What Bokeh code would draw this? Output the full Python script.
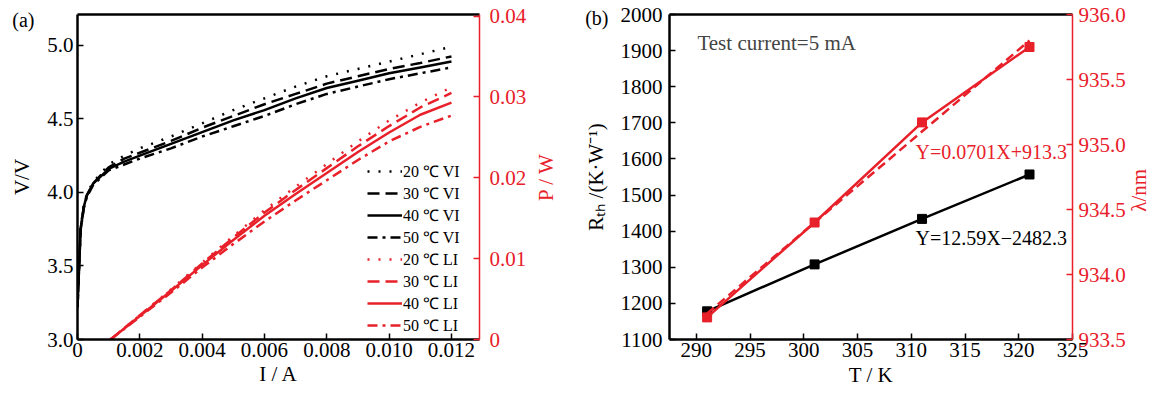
import math
from bokeh.plotting import figure
from bokeh.models import (Range1d, LinearAxis, FixedTicker, Legend, LegendItem, Label,
                          PrintfTickFormatter)
from bokeh.layouts import row
from bokeh.embed import file_html
from bokeh.resources import INLINE

RED = "#e8202a"
FONT = "Liberation Serif"

# ---------------- Panel (a) data ----------------
I_vi = [0, 0.0001, 0.0002, 0.0003, 0.0005, 0.0008, 0.001, 0.0015, 0.002, 0.003,
        0.004, 0.005, 0.006, 0.007, 0.008, 0.009, 0.010, 0.011, 0.012]
V_20 = [3.22, 3.76, 3.91, 3.99, 4.07, 4.14, 4.19, 4.25, 4.30, 4.38,
        4.47, 4.56, 4.64, 4.72, 4.79, 4.84, 4.89, 4.94, 4.99]
V_30 = [3.22, 3.75, 3.90, 3.98, 4.06, 4.13, 4.17, 4.23, 4.27, 4.35,
        4.44, 4.52, 4.60, 4.67, 4.74, 4.79, 4.84, 4.88, 4.925]
V_40 = [3.22, 3.75, 3.90, 3.98, 4.06, 4.12, 4.16, 4.21, 4.25, 4.33,
        4.41, 4.49, 4.56, 4.64, 4.71, 4.76, 4.81, 4.85, 4.89]
V_50 = [3.22, 3.74, 3.89, 3.97, 4.05, 4.11, 4.15, 4.19, 4.23, 4.30,
        4.38, 4.45, 4.52, 4.60, 4.67, 4.72, 4.77, 4.81, 4.85]

I_li = [0.00106, 0.002, 0.003, 0.004, 0.005, 0.006, 0.007, 0.008, 0.009, 0.010, 0.011, 0.012]
P_20 = [0, 0.0030, 0.0062, 0.0095, 0.0128, 0.0160, 0.0189, 0.0217, 0.0245, 0.0271, 0.0293, 0.0312]
P_30 = [0, 0.0030, 0.0061, 0.0094, 0.0126, 0.0157, 0.0185, 0.0212, 0.0239, 0.0264, 0.0287, 0.0305]
P_40 = [0, 0.0029, 0.0060, 0.0092, 0.0123, 0.0153, 0.0180, 0.0206, 0.0232, 0.0256, 0.0278, 0.0293]
P_50 = [0, 0.0028, 0.0058, 0.0089, 0.0118, 0.0146, 0.0172, 0.0197, 0.0222, 0.0245, 0.0263, 0.0277]

labels_vi = ["20 ℃ VI", "30 ℃ VI", "40 ℃ VI", "50 ℃ VI"]
labels_li = ["20 ℃ LI", "30 ℃ LI", "40 ℃ LI", "50 ℃ LI"]

xticks_a = [0, 0.002, 0.004, 0.006, 0.008, 0.010, 0.012]
yticks_a = [3.0, 3.5, 4.0, 4.5, 5.0]
pticks_a = [0, 0.01, 0.02, 0.03, 0.04]

# ---------------- Panel (b) data ----------------
T = [291, 301, 311, 321]
Rth = [1178, 1308, 1434, 1557]
lam = [933.67, 934.40, 935.17, 935.75]
fit_T = [291, 321]
fit_lam = [933.70, 935.80]

xticks_b = [290, 295, 300, 305, 310, 315, 320, 325]
yticks_b = [1100, 1200, 1300, 1400, 1500, 1600, 1700, 1800, 1900, 2000]
lticks_b = [933.5, 934.0, 934.5, 935.0, 935.5, 936.0]

DASHES = ["2 9", "12 6", "solid", "10 5 3 5"]
TICK_FS = "21px"
LABEL_FS = "21px"


def style_axis(ax, color="black", width=2.5):
    ax.major_tick_in = 6
    ax.major_tick_out = 0
    ax.minor_tick_line_color = None
    ax.axis_line_width = width
    ax.axis_line_color = color
    ax.major_tick_line_color = color
    ax.major_tick_line_width = 1.5
    ax.major_label_text_font = FONT
    ax.major_label_text_font_size = TICK_FS
    ax.major_label_text_color = color
    ax.axis_label_text_font = FONT
    ax.axis_label_text_font_size = LABEL_FS
    ax.axis_label_text_font_style = "normal"
    ax.axis_label_text_color = color


def top_axis():
    ax = LinearAxis(ticker=FixedTicker(ticks=[]))
    ax.major_label_text_font_size = "0px"
    ax.major_label_standoff = 0
    ax.major_tick_in = 0
    ax.major_tick_out = 0
    ax.minor_tick_line_color = None
    ax.axis_line_width = 2.5
    ax.axis_line_color = "black"
    return ax


def panel_tag(ypos, text, standoff):
    # an outer, line-less left axis whose single tick label is the panel tag
    ax = LinearAxis(ticker=FixedTicker(ticks=[ypos]))
    ax.major_label_overrides = {ypos: text}
    ax.major_label_standoff = standoff
    ax.major_label_text_font = FONT
    ax.major_label_text_font_size = "20px"
    ax.major_label_text_color = "black"
    ax.major_tick_in = 0
    ax.major_tick_out = 0
    ax.major_tick_line_color = None
    ax.minor_tick_line_color = None
    ax.axis_line_color = None
    return ax


# ================= Figure (a) =================
p1 = figure(width=580, height=395, x_range=Range1d(0, 0.0129), y_range=Range1d(3.0, 5.21),
            output_backend="svg", toolbar_location=None,
            min_border_left=77, min_border_right=101, min_border_top=14, min_border_bottom=56)
p1.extra_y_ranges = {"p": Range1d(0, 0.0402)}
p1.xgrid.grid_line_color = None
p1.ygrid.grid_line_color = None
p1.outline_line_color = None

xa = p1.xaxis[0]
style_axis(xa)
xa.ticker = FixedTicker(ticks=xticks_a)
xa.formatter = PrintfTickFormatter(format="%.3f")
xa.major_label_overrides = {0: "0"}
xa.axis_label = "I / A"
xa.major_label_standoff = 3
xa.axis_label_standoff = 2

ya = p1.yaxis[0]
style_axis(ya)
ya.ticker = FixedTicker(ticks=yticks_a)
ya.formatter = PrintfTickFormatter(format="%.1f")
ya.axis_label = "V/V"
ya.major_label_standoff = 4
ya.axis_label_standoff = 10
p1.add_layout(panel_tag(5.172, "(a)", -27), "left")

ra = LinearAxis(y_range_name="p")
style_axis(ra, color=RED, width=1.5)
ra.ticker = FixedTicker(ticks=pticks_a)
ra.formatter = PrintfTickFormatter(format="%.2f")
ra.major_label_overrides = {0: "0"}
ra.major_label_standoff = 10
p1.add_layout(ra, "right")
p1.add_layout(top_axis(), "above")

items = []
for V, lab, dash in zip([V_20, V_30, V_40, V_50], labels_vi, DASHES):
    r = p1.line(I_vi, V, line_color="black", line_width=2.5, line_dash=dash)
    items.append(LegendItem(label=lab, renderers=[r]))
for P, lab, dash in zip([P_20, P_30, P_40, P_50], labels_li, DASHES):
    r = p1.line(I_li, P, line_color=RED, line_width=2.5, line_dash=dash, y_range_name="p")
    items.append(LegendItem(label=lab, renderers=[r]))

leg = Legend(items=items, location=(290, 3), orientation="vertical",
             label_text_font=FONT, label_text_font_size="16px", label_text_color="black",
             label_text_line_height=1.0,
             glyph_width=35, glyph_height=16, label_height=16, label_standoff=1,
             spacing=0, padding=0, margin=0, border_line_color=None,
             background_fill_alpha=0)
p1.add_layout(leg, "center")

p1.add_layout(Label(x=0.0129, y=4.105, x_offset=66, angle=math.pi / 2, text="P / W",
                    text_font=FONT, text_font_size=LABEL_FS, text_color=RED,
                    text_align="center", text_baseline="middle"), "right")

# ================= Figure (b) =================
p2 = figure(width=574, height=395, x_range=Range1d(287.5, 325), y_range=Range1d(1100, 2000),
            output_backend="svg", toolbar_location=None,
            min_border_left=89, min_border_right=82, min_border_top=14, min_border_bottom=56)
p2.extra_y_ranges = {"lam": Range1d(933.5, 936.0)}
p2.xgrid.grid_line_color = None
p2.ygrid.grid_line_color = None
p2.outline_line_color = None

xb = p2.xaxis[0]
style_axis(xb)
xb.ticker = FixedTicker(ticks=xticks_b)
xb.formatter = PrintfTickFormatter(format="%d")
xb.axis_label = "T / K"
xb.major_label_standoff = 3
xb.axis_label_standoff = 3

yb = p2.yaxis[0]
style_axis(yb)
yb.ticker = FixedTicker(ticks=yticks_b)
yb.formatter = PrintfTickFormatter(format="%d")
yb.axis_label = "Rₜₕ /(K·W⁻¹)"
yb.major_label_standoff = 7
yb.axis_label_standoff = 10
p2.add_layout(panel_tag(1989, "(b)", -28), "left")

rb = LinearAxis(y_range_name="lam")
style_axis(rb, color=RED, width=1.5)
rb.ticker = FixedTicker(ticks=lticks_b)
rb.formatter = PrintfTickFormatter(format="%.1f")
rb.major_label_standoff = 6
p2.add_layout(rb, "right")
p2.add_layout(top_axis(), "above")

p2.line(T, Rth, line_color="black", line_width=2.5)
p2.scatter(T, Rth, marker="square", size=9, color="black")
p2.line(fit_T, fit_lam, line_color=RED, line_width=2.5, line_dash="9 5", y_range_name="lam")
p2.line(T, lam, line_color=RED, line_width=2.5, y_range_name="lam")
p2.scatter(T, lam, marker="square", size=9, color=RED, y_range_name="lam")

p2.add_layout(Label(x=290.1, y=1920, text="Test current=5 mA", text_font=FONT,
                    text_font_size="21px", text_baseline="middle", text_align="left"))
p2.add_layout(Label(x=310.4, y=1618, text="Y=0.0701X+913.3", text_font=FONT,
                    text_font_size="20px", text_baseline="middle", text_align="left",
                    text_color=RED))
p2.add_layout(Label(x=310.4, y=1382, text="Y=12.59X−2482.3", text_font=FONT,
                    text_font_size="20px", text_baseline="middle", text_align="left",
                    text_color="black"))
p2.add_layout(Label(x=325, y=1513, x_offset=66, angle=math.pi / 2, text="λ/nm",
                    text_font=FONT, text_font_size=LABEL_FS, text_color=RED,
                    text_align="center", text_baseline="middle"), "right")

layout = row(p1, p2)
open("out.html", "w").write(file_html(layout, INLINE))
